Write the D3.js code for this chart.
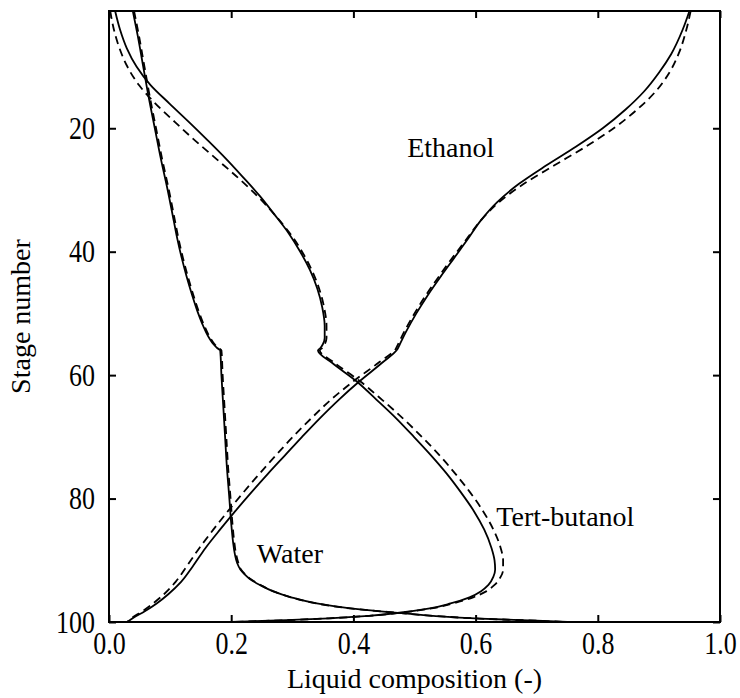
<!DOCTYPE html>
<html>
<head>
<meta charset="utf-8">
<script src="https://cdn.jsdelivr.net/npm/d3@7"></script>
<style>
  html, body { margin: 0; padding: 0; background: #fff; }
  svg text { font-family: "Liberation Serif", "Times New Roman", Times, serif; fill: #000; }
  .tall { transform-box: fill-box; transform-origin: center; transform: scaleY(1.18); }
</style>
</head>
<body>
<svg id="chart" width="740" height="698" font-family="Liberation Serif"></svg>
<script>
// ---------------- DATA ----------------
const xTicks = [0, 0.2, 0.4, 0.6, 0.8, 1.0];
const yTicks = [20, 40, 60, 80, 100];

// Ethanol (solid / dashed)
const ethanolStages = [1, 4, 8, 11, 14, 17, 20, 23, 26, 29, 32, 35, 38, 41, 44, 47, 50, 53, 55, 55.8, 58, 61, 64, 67, 70, 73, 76, 79, 82, 85, 88, 91, 93.5, 95.5, 97, 98.3, 99.3, 100];
const ethanolSolid  = [0.950, 0.939, 0.920, 0.900, 0.876, 0.845, 0.808, 0.764, 0.716, 0.671, 0.635, 0.608, 0.587, 0.565, 0.543, 0.522, 0.503, 0.486, 0.476, 0.472, 0.447, 0.410, 0.376, 0.345, 0.316, 0.288, 0.260, 0.233, 0.207, 0.182, 0.158, 0.137, 0.118, 0.097, 0.078, 0.058, 0.040, 0.030];
const ethanolDashed = [0.952, 0.945, 0.932, 0.917, 0.895, 0.864, 0.826, 0.780, 0.729, 0.679, 0.638, 0.608, 0.585, 0.562, 0.540, 0.519, 0.500, 0.483, 0.473, 0.469, 0.441, 0.400, 0.363, 0.331, 0.301, 0.273, 0.246, 0.220, 0.195, 0.171, 0.148, 0.127, 0.109, 0.090, 0.072, 0.054, 0.038, 0.030];

// Tert-butanol (solid / dashed)
const butanolStages = [1, 4, 7, 10, 13, 16, 19, 22, 25, 28, 31, 34, 37, 40, 43, 46, 49, 52, 54, 55, 55.6, 56, 58, 61, 64, 67, 70, 73, 76, 79, 82, 85, 88, 90, 91.5, 92.7, 94, 95, 96, 97, 97.8, 98.5, 99, 99.4, 99.7, 100];
const butanolSolid  = [0.010, 0.018, 0.029, 0.045, 0.068, 0.099, 0.131, 0.162, 0.192, 0.220, 0.247, 0.271, 0.294, 0.313, 0.329, 0.341, 0.349, 0.353, 0.353, 0.350, 0.346, 0.342, 0.365, 0.405, 0.438, 0.470, 0.499, 0.527, 0.553, 0.576, 0.597, 0.614, 0.626, 0.631, 0.632, 0.629, 0.621, 0.609, 0.590, 0.559, 0.525, 0.475, 0.425, 0.360, 0.290, 0.200];
const butanolDashed = [0.002, 0.008, 0.017, 0.030, 0.049, 0.076, 0.108, 0.141, 0.176, 0.211, 0.243, 0.271, 0.296, 0.316, 0.332, 0.344, 0.352, 0.356, 0.356, 0.353, 0.349, 0.345, 0.369, 0.411, 0.447, 0.481, 0.512, 0.541, 0.567, 0.591, 0.612, 0.629, 0.641, 0.645, 0.645, 0.641, 0.631, 0.618, 0.596, 0.563, 0.528, 0.477, 0.426, 0.360, 0.290, 0.200];

// Water (solid / dashed)
const waterStages = [1, 5, 10, 15, 20, 25, 30, 35, 38, 41, 44, 47, 50, 52, 54, 55, 55.6, 56, 60, 65, 70, 75, 80, 84, 87, 89, 90.5, 91.5, 92.3, 93, 94, 95, 96, 97, 97.8, 98.4, 99, 99.45, 99.8, 100];
const waterSolid  = [0.039, 0.047, 0.056, 0.065, 0.075, 0.085, 0.096, 0.106, 0.112, 0.119, 0.127, 0.136, 0.146, 0.154, 0.164, 0.171, 0.177, 0.182, 0.184, 0.187, 0.190, 0.193, 0.197, 0.200, 0.203, 0.206, 0.210, 0.215, 0.222, 0.230, 0.247, 0.268, 0.298, 0.340, 0.395, 0.460, 0.530, 0.607, 0.700, 0.750];
const waterDashed = [0.041, 0.049, 0.058, 0.067, 0.077, 0.087, 0.098, 0.108, 0.114, 0.121, 0.129, 0.138, 0.148, 0.156, 0.166, 0.173, 0.179, 0.184, 0.186, 0.189, 0.192, 0.195, 0.199, 0.202, 0.205, 0.208, 0.212, 0.216, 0.223, 0.231, 0.248, 0.268, 0.298, 0.340, 0.395, 0.460, 0.530, 0.607, 0.700, 0.750];

const labels = [
  { text: "Ethanol", x: 0.488, stage: 24.6 },
  { text: "Tert-butanol", x: 0.634, stage: 84.5 },
  { text: "Water", x: 0.242, stage: 90.4 }
];

// ---------------- CHART ----------------
const W = 740, H = 698;
const margin = { left: 109, right: 20, top: 11, bottom: 76 };
const svg = d3.select("#chart");
const FONT = '"Liberation Serif", "Times New Roman", Times, serif';

const x = d3.scaleLinear().domain([0, 1]).range([margin.left, W - margin.right]);
const y = d3.scaleLinear().domain([1, 100]).range([margin.top, H - margin.bottom]);

const tickLen = 7;

// axes
const gB = svg.append("g").attr("transform", `translate(0,${y.range()[1]})`)
  .call(d3.axisBottom(x).tickValues(xTicks).tickFormat(d3.format(".1f"))
        .tickSizeInner(-tickLen).tickSizeOuter(0).tickPadding(12));
const gL = svg.append("g").attr("transform", `translate(${x.range()[0]},0)`)
  .call(d3.axisLeft(y).tickValues(yTicks).tickFormat(d3.format("d"))
        .tickSizeInner(-tickLen).tickSizeOuter(0).tickPadding(14));
const gT = svg.append("g").attr("transform", `translate(0,${y.range()[0]})`)
  .call(d3.axisTop(x).tickValues(xTicks).tickFormat("")
        .tickSizeInner(-tickLen).tickSizeOuter(0));
const gR = svg.append("g").attr("transform", `translate(${x.range()[1]},0)`)
  .call(d3.axisRight(y).tickValues(yTicks).tickFormat("")
        .tickSizeInner(-tickLen).tickSizeOuter(0));

[gB, gL, gT, gR].forEach(g => {
  g.attr("font-family", FONT);
  g.select(".domain").remove();
  g.selectAll(".tick line").attr("stroke", "#000").attr("stroke-width", 2);
  g.selectAll(".tick text")
    .attr("class", "tall")
    .style("font-family", FONT)
    .style("font-size", "26px")
    .attr("fill", "#000");
});
gL.selectAll(".tick text").attr("dy", "0.33em");

// frame
svg.append("rect")
  .attr("x", x.range()[0]).attr("y", y.range()[0])
  .attr("width", x.range()[1] - x.range()[0])
  .attr("height", y.range()[1] - y.range()[0])
  .attr("fill", "none").attr("stroke", "#000").attr("stroke-width", 2);

// lines
const line = d3.line()
  .x(d => x(d[0]))
  .y(d => y(d[1]))
  .curve(d3.curveMonotoneY);

const series = [
  { stages: ethanolStages, vals: ethanolSolid, dash: null },
  { stages: ethanolStages, vals: ethanolDashed, dash: "8,5" },
  { stages: butanolStages, vals: butanolSolid, dash: null },
  { stages: butanolStages, vals: butanolDashed, dash: "8,5" },
  { stages: waterStages, vals: waterSolid, dash: null },
  { stages: waterStages, vals: waterDashed, dash: "8,5" }
];

const plot = svg.append("g");
series.forEach(s => {
  const pts = s.stages.map((st, i) => [s.vals[i], st]);
  plot.append("path")
    .attr("d", line(pts))
    .attr("fill", "none")
    .attr("stroke", "#000")
    .attr("stroke-width", 1.8)
    .attr("stroke-linejoin", "round")
    .attr("stroke-dasharray", s.dash);
});

// in-plot labels
svg.selectAll("text.lbl").data(labels).enter().append("text")
  .attr("class", "lbl")
  .attr("x", d => x(d.x))
  .attr("y", d => y(d.stage))
  .style("font-family", FONT)
  .style("font-size", "28px")
  .text(d => d.text);

// axis titles
svg.append("text")
  .attr("x", (x.range()[0] + x.range()[1]) / 2)
  .attr("y", 688)
  .attr("text-anchor", "middle")
  .style("font-family", FONT)
  .style("font-size", "28px")
  .text("Liquid composition (-)");

svg.append("text")
  .attr("transform", `translate(30,${(y.range()[0] + y.range()[1]) / 2}) rotate(-90)`)
  .attr("text-anchor", "middle")
  .style("font-family", FONT)
  .style("font-size", "28px")
  .text("Stage number");
</script>
</body>
</html>
